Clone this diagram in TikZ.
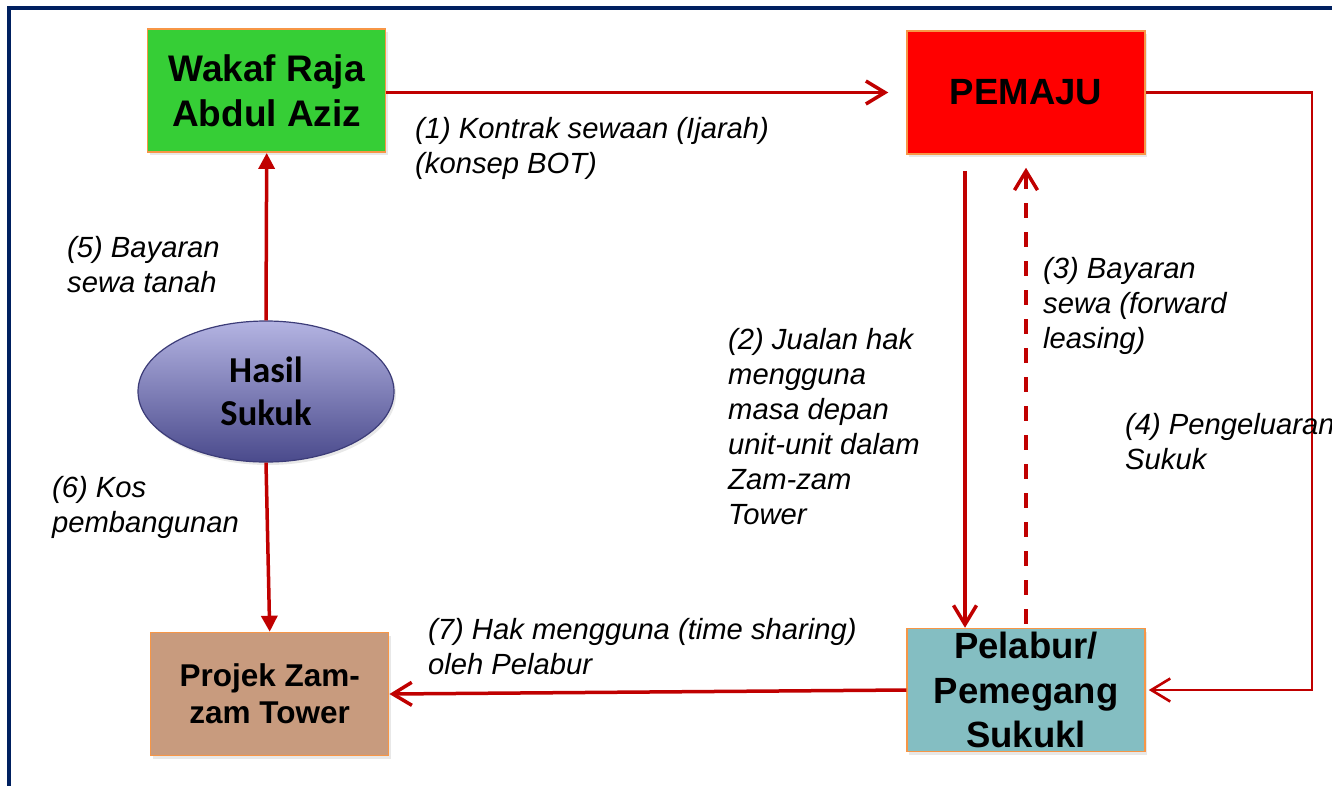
\documentclass[tikz,border=0pt]{standalone}
\usepackage{fontspec}
\setmainfont{Liberation Sans}
\newfontfamily\calibfont{Carlito}
\usetikzlibrary{arrows.meta,shapes.geometric,shadows}
\definecolor{frameblue}{HTML}{002060}
\definecolor{arrred}{HTML}{C00000}
\definecolor{boxgreen}{HTML}{36CE36}
\definecolor{boxred}{HTML}{FF0000}
\definecolor{boxtan}{HTML}{C89B7E}
\definecolor{boxteal}{HTML}{84BEC2}
\definecolor{boxedge}{HTML}{F79646}
\definecolor{elltop}{HTML}{B4B4E2}
\definecolor{ellbot}{HTML}{4A4A8C}
\definecolor{elledge}{HTML}{3C3C78}
\begin{document}
\begin{tikzpicture}[x=1pt,y=-1pt,
  entity/.style={draw=boxedge, line width=1.5pt, minimum width=238pt, minimum height=123pt,
    inner sep=0pt, align=center,
    drop shadow={opacity=0.18, shadow xshift=2pt, shadow yshift=-3pt}},
  boxtext/.style={inner sep=0pt, align=center},
  lbl/.style={anchor=west, align=left, inner sep=0pt, font=\fontsize{29.2}{35}\selectfont\itshape},
  flow/.style={draw=arrred, line width=3.5pt, -{Straight Barb[length=19pt,width=23pt]}},
  feed/.style={draw=arrred, line width=3.5pt, -{Triangle[length=16pt,width=16pt]}},
]
\useasboundingbox[fill=white] (0,0) rectangle (1332,785);
\draw[frameblue, line width=3.5pt] (9,8) rectangle (1360,810);

\node[entity, fill=boxgreen, font=\fontsize{37}{45}\selectfont\bfseries] (wakaf) at (266.7,90.7) {Wakaf Raja\\Abdul Aziz};
\node[entity, fill=boxred, font=\fontsize{36.5}{44}\selectfont\bfseries] (pemaju) at (1026,92.5) {PEMAJU};
\node[ellipse, draw=elledge, line width=1.2pt, top color=elltop, bottom color=ellbot,
  minimum width=256pt, minimum height=141pt, inner sep=0pt, align=center,
  drop shadow={opacity=0.18, shadow xshift=2pt, shadow yshift=-3pt},
  font=\calibfont\fontsize{36.5}{43}\selectfont\bfseries] (hasil) at (266,391.5) {Hasil\\Sukuk};
\node[entity, fill=boxtan, font=\fontsize{31.5}{37}\selectfont\bfseries] (proj) at (269.7,694) {Projek Zam-\\zam Tower};
\node[entity, fill=boxteal] (pel) at (1026,690) {};
\node[boxtext, font=\fontsize{36.5}{44.5}\selectfont\bfseries] (peltxt) at (pel.center) {Pelabur/\\Pemegang\\Sukukl};

\coordinate (c4) at (1312,92.5);

\draw[flow, shorten >=18pt] (wakaf.east |- pemaju.west) -- (pemaju.west);
\draw[flow, shorten <=16pt] ([xshift=-61pt]pemaju.south) -- ([xshift=-61pt]pel.north);
\draw[flow, dash pattern=on 15pt off 14pt, shorten <=4pt, shorten >=13pt] (pel.north) -- (pemaju.south);
\draw[flow, line width=2.6pt, shorten >=3pt] (pemaju.east) -- (c4) |- (pel.east);
\draw[flow] (pel.west) -- (proj.east);
\draw[feed] (hasil.north) -- (wakaf.south);
\draw[feed] (hasil.south) -- (proj.north);

\node[lbl] (l1) at (415,148) {(1) Kontrak sewaan (Ijarah)\\(konsep BOT)};
\node[lbl] (l5) at (67,264.5) {(5) Bayaran\\sewa tanah};
\node[lbl] (l6) at (52,507) {(6) Kos\\pembangunan};
\node[lbl] (l2) at (728,426.5) {(2) Jualan hak\\mengguna\\masa depan\\unit-unit dalam\\Zam-zam\\Tower};
\node[lbl] (l3) at (1043,306) {(3) Bayaran\\sewa (forward\\leasing)};
\node[lbl] (l4) at (1125,442) {(4) Pengeluaran\\Sukuk};
\node[lbl] (l7) at (428,646.5) {(7) Hak mengguna (time sharing)\\oleh Pelabur};
\end{tikzpicture}
\end{document}
